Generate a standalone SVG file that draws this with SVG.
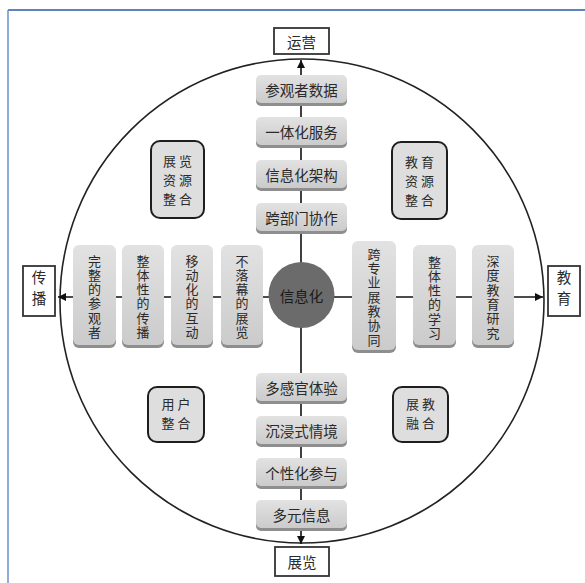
<svg xmlns="http://www.w3.org/2000/svg" width="585" height="583" viewBox="0 0 585 583">
  <defs>
    <linearGradient id="tileFill" x1="0" y1="0" x2="0" y2="1">
      <stop offset="0" stop-color="#e2e2e2"/>
      <stop offset="1" stop-color="#cbcbcb"/>
    </linearGradient>
    <marker id="arrow" viewBox="0 0 10 10" refX="10" refY="5" markerWidth="8" markerHeight="8" markerUnits="userSpaceOnUse" orient="auto">
      <path d="M0,0 L10,5 L0,10 z" fill="#111"/>
    </marker>
  </defs>
  <style>
    text { font-family: "Noto Sans CJK SC", "Noto Sans", sans-serif; fill: #2a2a2a; }
    .t { font-size: 14.5px; text-anchor: middle; dominant-baseline: central; }
    .v { font-size: 13px; text-anchor: middle; writing-mode: vertical-rl; letter-spacing: 1.3px; }
    .c { font-size: 13px; text-anchor: middle; dominant-baseline: central; letter-spacing: 3px; }
    .shadow { fill: #8e8e8e; }
    .tile { fill: url(#tileFill); }
    .corner { fill: #dedede; stroke: #1e1e1e; stroke-width: 2; }
    .label { fill: #ffffff; stroke: #333; stroke-width: 1.8; }
    .axis { stroke: #111; stroke-width: 1.6; fill: none; }
  </style>

  <rect width="585" height="583" fill="#ffffff"/>
  <!-- page frame -->
  <line x1="8" y1="10" x2="585" y2="10" stroke="#2d58a5" stroke-width="1.5"/>
  <line x1="8" y1="10" x2="8" y2="583" stroke="#6a8ed0" stroke-width="1.5"/>

  <!-- outer ring -->
  <circle cx="302" cy="301" r="242" fill="none" stroke="#222" stroke-width="1.6"/>

  <g id="connectors">
    <line class="axis" x1="301" y1="297" x2="301" y2="60" marker-end="url(#arrow)"/>
    <line class="axis" x1="301" y1="297" x2="301" y2="544" marker-end="url(#arrow)"/>
    <line class="axis" x1="301" y1="297" x2="58" y2="297" marker-end="url(#arrow)"/>
    <line class="axis" x1="301" y1="297" x2="543" y2="297" marker-end="url(#arrow)"/>
  </g>

  <!-- axis end labels -->
  <g id="yunying">
    <rect class="label" x="274" y="28" width="55" height="26"/>
    <text class="t" x="301.5" y="41">运营</text>
  </g>
  <g id="zhanlan">
    <rect class="label" x="275" y="547" width="54" height="29"/>
    <text class="t" x="302" y="561.5">展览</text>
  </g>
  <g id="chuanbo">
    <rect class="label" x="23" y="266" width="32" height="50"/>
    <text class="v" x="39" y="291" style="font-size:14.5px;letter-spacing:6px">传播</text>
  </g>
  <g id="jiaoyu">
    <rect class="label" x="548" y="266" width="32" height="50"/>
    <text class="v" x="564" y="291" style="font-size:14.5px;letter-spacing:6px">教育</text>
  </g>

  <!-- top column -->
  <g id="canguanzheshuju">
    <rect class="shadow" x="256" y="78" width="91" height="28" rx="5"/>
    <rect class="tile" x="256" y="75" width="91" height="28" rx="5"/>
    <text class="t" x="301.5" y="89">参观者数据</text>
  </g>
  <g id="yitihuafuwu">
    <rect class="shadow" x="256" y="120" width="91" height="28" rx="5"/>
    <rect class="tile" x="256" y="117" width="91" height="28" rx="5"/>
    <text class="t" x="301.5" y="131">一体化服务</text>
  </g>
  <g id="xinxihuajiagou">
    <rect class="shadow" x="256" y="163" width="91" height="28" rx="5"/>
    <rect class="tile" x="256" y="160" width="91" height="28" rx="5"/>
    <text class="t" x="301.5" y="174">信息化架构</text>
  </g>
  <g id="kuabumenxiezuo">
    <rect class="shadow" x="256" y="206" width="91" height="28" rx="5"/>
    <rect class="tile" x="256" y="203" width="91" height="28" rx="5"/>
    <text class="t" x="301.5" y="217">跨部门协作</text>
  </g>

  <!-- bottom column -->
  <g id="duoganguantiyan">
    <rect class="shadow" x="256" y="376" width="91" height="28" rx="5"/>
    <rect class="tile" x="256" y="373" width="91" height="28" rx="5"/>
    <text class="t" x="301.5" y="387">多感官体验</text>
  </g>
  <g id="chenjinshiqingjing">
    <rect class="shadow" x="256" y="419" width="91" height="28" rx="5"/>
    <rect class="tile" x="256" y="416" width="91" height="28" rx="5"/>
    <text class="t" x="301.5" y="430">沉浸式情境</text>
  </g>
  <g id="gexinghuacanyu">
    <rect class="shadow" x="256" y="461" width="91" height="28" rx="5"/>
    <rect class="tile" x="256" y="458" width="91" height="28" rx="5"/>
    <text class="t" x="301.5" y="472">个性化参与</text>
  </g>
  <g id="duoyuanxinxi">
    <rect class="shadow" x="256" y="503" width="91" height="28" rx="5"/>
    <rect class="tile" x="256" y="500" width="91" height="28" rx="5"/>
    <text class="t" x="301.5" y="514">多元信息</text>
  </g>

  <!-- left row -->
  <g id="wanzhengdecanguanzhe">
    <rect class="shadow" x="73" y="248" width="43" height="100" rx="6"/>
    <rect class="tile" x="73" y="245" width="43" height="100" rx="6"/>
    <text class="v" x="94.5" y="297">完整的参观者</text>
  </g>
  <g id="zhengtixingdechuanbo">
    <rect class="shadow" x="122" y="248" width="42" height="100" rx="6"/>
    <rect class="tile" x="122" y="245" width="42" height="100" rx="6"/>
    <text class="v" x="143" y="297">整体性的传播</text>
  </g>
  <g id="yidonghuadehudong">
    <rect class="shadow" x="171" y="248" width="42" height="100" rx="6"/>
    <rect class="tile" x="171" y="245" width="42" height="100" rx="6"/>
    <text class="v" x="192" y="297">移动化的互动</text>
  </g>
  <g id="buluomudezhanlan">
    <rect class="shadow" x="221" y="248" width="42" height="100" rx="6"/>
    <rect class="tile" x="221" y="245" width="42" height="100" rx="6"/>
    <text class="v" x="242" y="297">不落幕的展览</text>
  </g>

  <!-- right row -->
  <g id="kuazhuanyezhanjiaoxietong">
    <rect class="shadow" x="352" y="244" width="44" height="109" rx="6"/>
    <rect class="tile" x="352" y="241" width="44" height="109" rx="6"/>
    <text class="v" x="374" y="297.5">跨专业展教协同</text>
  </g>
  <g id="zhengtixingdexuexi">
    <rect class="shadow" x="413" y="248" width="43" height="100" rx="6"/>
    <rect class="tile" x="413" y="245" width="43" height="100" rx="6"/>
    <text class="v" x="434.5" y="298">整体性的学习</text>
  </g>
  <g id="shendujiaoyuyanjiu">
    <rect class="shadow" x="472" y="248" width="42" height="100" rx="6"/>
    <rect class="tile" x="472" y="245" width="42" height="100" rx="6"/>
    <text class="v" x="493" y="297.5">深度教育研究</text>
  </g>

  <!-- hub -->
  <g id="xinxihua">
    <circle cx="301.5" cy="295" r="33" fill="#6b6b6b"/>
    <text class="t" x="301.5" y="295" style="fill:#1a1a1a">信息化</text>
  </g>

  <!-- quadrant boxes -->
  <g id="zhanlanziyuanzhenghe">
    <rect class="corner" x="151" y="141" width="53" height="77" rx="9"/>
    <text class="c" x="179" y="160.5">展览</text>
    <text class="c" x="179" y="179.5">资源</text>
    <text class="c" x="179" y="198.5">整合</text>
  </g>
  <g id="jiaoyuziyuanzhenghe">
    <rect class="corner" x="392" y="142" width="55" height="77" rx="9"/>
    <text class="c" x="421" y="161">教育</text>
    <text class="c" x="421" y="180">资源</text>
    <text class="c" x="421" y="199">整合</text>
  </g>
  <g id="yonghuzhenghe">
    <rect class="corner" x="148" y="387" width="56" height="55" rx="9"/>
    <text class="c" x="177.5" y="403.5">用户</text>
    <text class="c" x="177.5" y="422.5">整合</text>
  </g>
  <g id="zhanjiaoronghe">
    <rect class="corner" x="393" y="387" width="55" height="55" rx="9"/>
    <text class="c" x="422" y="403.5">展教</text>
    <text class="c" x="422" y="422.5">融合</text>
  </g>
</svg>
